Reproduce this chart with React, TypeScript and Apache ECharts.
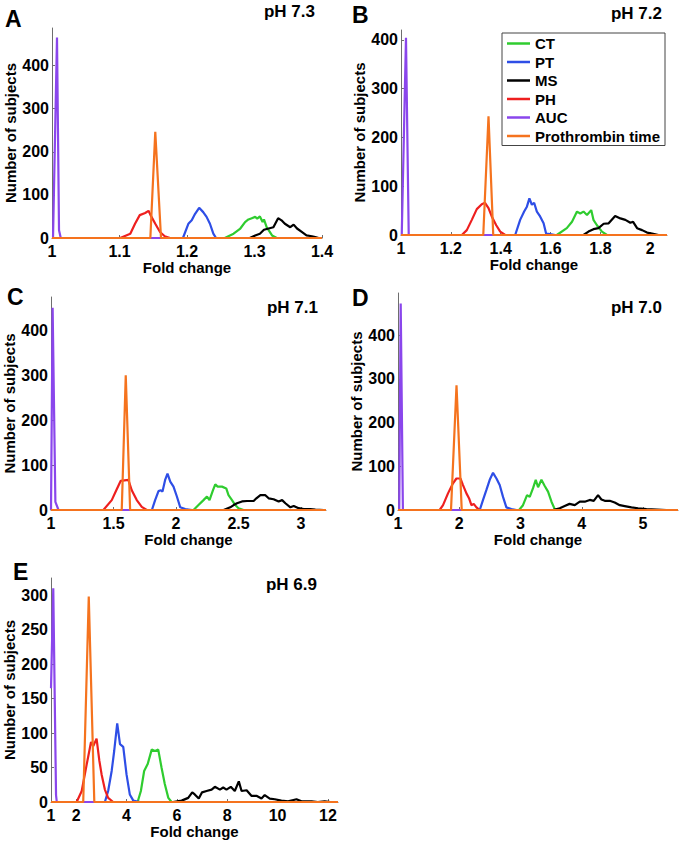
import React, { useEffect, useRef } from "react";
import * as echarts from "echarts";

type Pts = [number, number][];

// Panel A (pH 7.3)
const aCT: Pts = [[1,0],[1.256,0],[1.269,10],[1.279,22],[1.286,37],[1.291,43],[1.296,46],[1.301,49],[1.304,45],[1.308,50],[1.312,37],[1.314,43],[1.318,25],[1.326,6],[1.333,0],[1.4,0]];
const aPT: Pts = [[1,0],[1.194,0],[1.202,33],[1.207,41],[1.212,56],[1.218,70],[1.224,60],[1.229,49],[1.234,33],[1.239,10],[1.243,0],[1.4,0]];
const aMS: Pts = [[1,0],[1.293,0],[1.301,6],[1.308,10],[1.314,19],[1.321,22],[1.328,25],[1.335,46],[1.340,41],[1.345,33],[1.353,25],[1.358,31],[1.363,22],[1.370,14],[1.377,6],[1.385,4],[1.390,2],[1.395,0],[1.4,0]];
const aPH: Pts = [[1,0],[1.101,0],[1.116,10],[1.123,33],[1.130,53],[1.138,58],[1.143,63],[1.146,53],[1.153,33],[1.160,14],[1.167,4],[1.175,0],[1.4,0]];
const aAUC: Pts = [[1,0],[1.0015,0],[1.0074,465],[1.0104,18],[1.013,0],[1.4,0]];
const aPro: Pts = [[1,0],[1.1457,0],[1.153,246],[1.1615,0],[1.4,0]];

// Panel B (pH 7.2)
const bCT: Pts = [[1,0],[1.625,0],[1.665,14],[1.686,27],[1.706,48],[1.719,44],[1.732,48],[1.746,41],[1.763,51],[1.772,31],[1.786,20],[1.806,7],[1.826,0],[2.067,0]];
const bPT: Pts = [[1,0],[1.458,0],[1.478,31],[1.494,48],[1.505,58],[1.515,75],[1.525,62],[1.534,66],[1.545,48],[1.558,38],[1.572,24],[1.582,3],[1.598,2],[1.618,0],[2.067,0]];
const bMS: Pts = [[1,0],[1.732,0],[1.752,7],[1.772,12],[1.792,14],[1.813,23],[1.833,24],[1.859,39],[1.880,34],[1.900,31],[1.920,25],[1.931,27],[1.947,14],[1.967,10],[1.987,5],[2.007,3],[2.033,0],[2.067,0]];
const bPH: Pts = [[1,0],[1.244,0],[1.264,10],[1.284,31],[1.304,53],[1.324,63],[1.337,66],[1.351,55],[1.364,38],[1.382,20],[1.398,7],[1.418,0],[2.067,0]];
const bAUC: Pts = [[1,0],[1.003,0],[1.020,404],[1.031,0],[2.067,0]];
const bPro: Pts = [[1,0],[1.330,0],[1.351,243],[1.370,0],[2.067,0]];

// Panel C (pH 7.1)
const cCT: Pts = [[1,0],[2.14,0],[2.18,11],[2.22,22],[2.248,30],[2.268,22],[2.296,44],[2.314,57],[2.333,52],[2.368,52],[2.402,48],[2.42,33],[2.448,22],[2.474,11],[2.50,4],[2.54,0],[3.2,0]];
const cPT: Pts = [[1,0],[1.807,0],[1.833,22],[1.86,42],[1.879,44],[1.892,41],[1.913,67],[1.932,81],[1.954,63],[1.98,52],[2.007,30],[2.034,6],[2.074,2],[2.127,0],[3.2,0]];
const cMS: Pts = [[1,0],[2.381,0],[2.434,6],[2.461,11],[2.488,15],[2.528,19],[2.568,20],[2.621,20],[2.643,26],[2.675,33],[2.715,33],[2.741,26],[2.781,24],[2.821,19],[2.849,22],[2.875,15],[2.915,6],[2.942,9],[2.981,4],[3.022,2],[3.075,2],[3.115,1],[3.182,0],[3.2,0]];
const cPH: Pts = [[1,0],[1.419,0],[1.486,22],[1.526,46],[1.558,65],[1.619,67],[1.646,44],[1.686,22],[1.726,7],[1.766,0],[3.2,0]];
const cAUC: Pts = [[1,0],[1.013,450],[1.035,18],[1.06,0],[3.2,0]];
const cPro: Pts = [[1,0],[1.566,0],[1.598,300],[1.633,0],[3.2,0]];

// Panel D (pH 7.0)
const dCT: Pts = [[1,0],[2.976,0],[3.04,11],[3.106,34],[3.15,30],[3.204,50],[3.248,69],[3.286,52],[3.341,69],[3.395,55],[3.449,42],[3.505,19],[3.558,2],[3.586,0],[5.57,0]];
const dPT: Pts = [[1,0],[2.334,0],[2.388,23],[2.443,46],[2.497,69],[2.551,85],[2.607,72],[2.66,57],[2.714,30],[2.769,6],[2.851,2],[2.933,0],[5.57,0]];
const dMS: Pts = [[1,0],[3.53,0],[3.64,4],[3.72,9],[3.80,14],[3.885,11],[3.967,19],[4.048,19],[4.13,23],[4.195,21],[4.265,34],[4.32,24],[4.375,21],[4.456,21],[4.537,17],[4.62,11],[4.70,9],[4.81,6],[4.918,4],[5.055,2],[5.22,1],[5.38,0],[5.57,0]];
const dPH: Pts = [[1,0],[1.68,0],[1.735,11],[1.816,38],[1.898,61],[1.953,72],[2.019,72],[2.061,57],[2.117,38],[2.159,27],[2.198,11],[2.236,14],[2.28,6],[2.334,0],[5.57,0]];
const dAUC: Pts = [[1,0],[1.02,0],[1.044,472],[1.08,0],[5.57,0]];
const dPro: Pts = [[1,0],[1.865,0],[1.955,285],[2.04,0],[5.57,0]];

// Panel E (pH 6.9)
const eCT: Pts = [[1,0],[4.44,0],[4.57,16],[4.70,45],[4.84,55],[5.0,76],[5.13,74],[5.26,76],[5.39,50],[5.52,26],[5.66,6],[5.79,0],[12.4,0]];
const ePT: Pts = [[1,0],[3.14,0],[3.27,16],[3.41,45],[3.51,74],[3.63,114],[3.74,84],[3.87,80],[4.0,40],[4.13,11],[4.27,2],[4.53,0],[12.4,0]];
const eMS: Pts = [[1,0],[5.85,0],[6.19,2],[6.45,6],[6.61,14],[6.71,11],[6.87,5],[7.0,14],[7.18,16],[7.38,18],[7.51,22],[7.71,18],[7.84,21],[7.97,18],[8.14,22],[8.30,16],[8.46,30],[8.57,16],[8.77,17],[8.96,9],[9.16,9],[9.36,5],[9.49,10],[9.69,5],[9.89,4],[10.15,2],[10.42,1],[10.75,4],[10.95,1],[11.35,1],[11.6,0],[11.87,1],[12.1,0],[12.4,0]];
const ePH: Pts = [[1,0],[2.02,0],[2.22,16],[2.42,55],[2.59,87],[2.68,81],[2.81,92],[2.92,60],[3.01,40],[3.14,18],[3.27,6],[3.47,0],[12.4,0]];
const eAUC: Pts = [[1,165],[1.09,310],[1.2,10],[1.23,0],[12.4,0]];
const ePro: Pts = [[1,0],[2.28,0],[2.50,298],[2.72,0],[12.4,0]];

const seriesNames = ["CT", "PT", "MS", "PH", "AUC", "Prothrombin time"];
const seriesColors = ["#2fcc2f", "#2e4ee6", "#000000", "#ee1f1f", "#8a46ec", "#f5731e"];

const panelLetters = ["A", "B", "C", "D", "E"];
const panelTitles = ["pH 7.3", "pH 7.2", "pH 7.1", "pH 7.0", "pH 6.9"];
const xTickValues = [
  [1, 1.1, 1.2, 1.3, 1.4],
  [1, 1.2, 1.4, 1.6, 1.8, 2],
  [1, 1.5, 2, 2.5, 3],
  [1, 2, 3, 4, 5],
  [1, 2, 4, 6, 8, 10, 12],
];
const yTickValues = [
  [0, 100, 200, 300, 400],
  [0, 100, 200, 300, 400],
  [0, 100, 200, 300, 400],
  [0, 100, 200, 300, 400],
  [0, 50, 100, 150, 200, 250, 300],
];
const xMaxes = [1.4, 2.067, 3.2, 5.57, 12.4];
const yMaxes = [487, 420, 474, 496, 325];

const panelData: Pts[][] = [
  [aCT, aPT, aMS, aPH, aAUC, aPro],
  [bCT, bPT, bMS, bPH, bAUC, bPro],
  [cCT, cPT, cMS, cPH, cAUC, cPro],
  [dCT, dPT, dMS, dPH, dAUC, dPro],
  [eCT, ePT, eMS, ePH, eAUC, ePro],
];

// layout (pixels)
const gridBoxes = [
  { left: 52, top: 28, width: 270, height: 210 },
  { left: 401, top: 30, width: 266, height: 205 },
  { left: 51, top: 297, width: 275, height: 213 },
  { left: 398, top: 293, width: 280, height: 217 },
  { left: 51, top: 578, width: 287, height: 224 },
];
const letterPos = [[5, 19], [352, 15], [7, 297], [352, 298], [13, 572]];
const titlePos = [[315, 11], [662, 13], [318, 307], [662, 307], [317, 584]];

const FONT = '"Liberation Sans", Arial, Helvetica, sans-serif';
const AXIS_COLOR = "#6e6e6e";

function buildOption() {
  const grid: any[] = [];
  const xAxis: any[] = [];
  const yAxis: any[] = [];
  const series: any[] = [];
  const graphic: any[] = [];

  gridBoxes.forEach((g, i) => {
    grid.push({ ...g, containLabel: false });
    xAxis.push({
      type: "value",
      gridIndex: i,
      min: 1,
      max: xMaxes[i],
      name: "Fold change",
      nameLocation: "middle",
      nameGap: 21,
      nameTextStyle: { fontSize: 15, fontWeight: "bold", color: "#000", fontFamily: FONT },
      axisLine: { show: true, onZero: false, lineStyle: { color: AXIS_COLOR, width: 1 } },
      axisTick: { show: true, inside: true, length: 3, customValues: xTickValues[i], lineStyle: { color: AXIS_COLOR } },
      axisLabel: {
        customValues: xTickValues[i],
        margin: 5,
        fontSize: 16,
        fontWeight: "bold",
        color: "#000",
        fontFamily: FONT,
      },
      splitLine: { show: false },
    });
    yAxis.push({
      type: "value",
      gridIndex: i,
      min: 0,
      max: yMaxes[i],
      name: "Number of subjects",
      nameLocation: "middle",
      nameGap: 34,
      nameRotate: 90,
      nameTextStyle: { fontSize: 15, fontWeight: "bold", color: "#000", fontFamily: FONT },
      axisLine: { show: true, lineStyle: { color: AXIS_COLOR, width: 1 } },
      axisTick: { show: true, inside: true, length: 3, customValues: yTickValues[i], lineStyle: { color: AXIS_COLOR } },
      axisLabel: {
        customValues: yTickValues[i],
        margin: 3,
        fontSize: 16,
        fontWeight: "bold",
        color: "#000",
        fontFamily: FONT,
      },
      splitLine: { show: false },
    });
    panelData[i].forEach((data, k) => {
      series.push({
        type: "line",
        name: seriesNames[k],
        xAxisIndex: i,
        yAxisIndex: i,
        data,
        symbol: "none",
        showSymbol: false,
        color: seriesColors[k],
        lineStyle: { color: seriesColors[k], width: 2.2 },
        z: 2 + k * 0.1,
      });
    });
    graphic.push({
      type: "text",
      x: letterPos[i][0],
      y: letterPos[i][1],
      style: {
        text: panelLetters[i],
        font: `bold 23px ${FONT}`,
        fill: "#000",
        textAlign: "left",
        textVerticalAlign: "middle",
      },
    });
    graphic.push({
      type: "text",
      x: titlePos[i][0],
      y: titlePos[i][1],
      style: {
        text: panelTitles[i],
        font: `bold 17px ${FONT}`,
        fill: "#000",
        textAlign: "right",
        textVerticalAlign: "middle",
      },
    });
  });

  return {
    animation: false,
    backgroundColor: "#ffffff",
    grid,
    xAxis,
    yAxis,
    series,
    graphic,
    legend: {
      data: seriesNames.map((n, k) => ({ name: n, icon: "rect", itemStyle: { color: seriesColors[k] } })),
      orient: "vertical",
      left: 502,
      top: 33,
      icon: "rect",
      itemWidth: 23,
      itemHeight: 2.5,
      itemGap: 3.5,
      padding: [3, 5, 2, 5],
      borderColor: "#444",
      borderWidth: 1,
      backgroundColor: "#fff",
      selectedMode: false,
      textStyle: { fontSize: 15, fontWeight: "bold", color: "#000", fontFamily: FONT },
    },
  };
}

export default function App() {
  const ref = useRef<HTMLDivElement>(null);
  useEffect(() => {
    if (!ref.current) return;
    const chart = echarts.init(ref.current, undefined, { renderer: "svg" });
    chart.setOption(buildOption() as any);
    return () => chart.dispose();
  }, []);
  return (
    <div
      ref={ref}
      style={{ position: "absolute", left: 0, top: 0, width: 680, height: 842, background: "#fff" }}
    />
  );
}
